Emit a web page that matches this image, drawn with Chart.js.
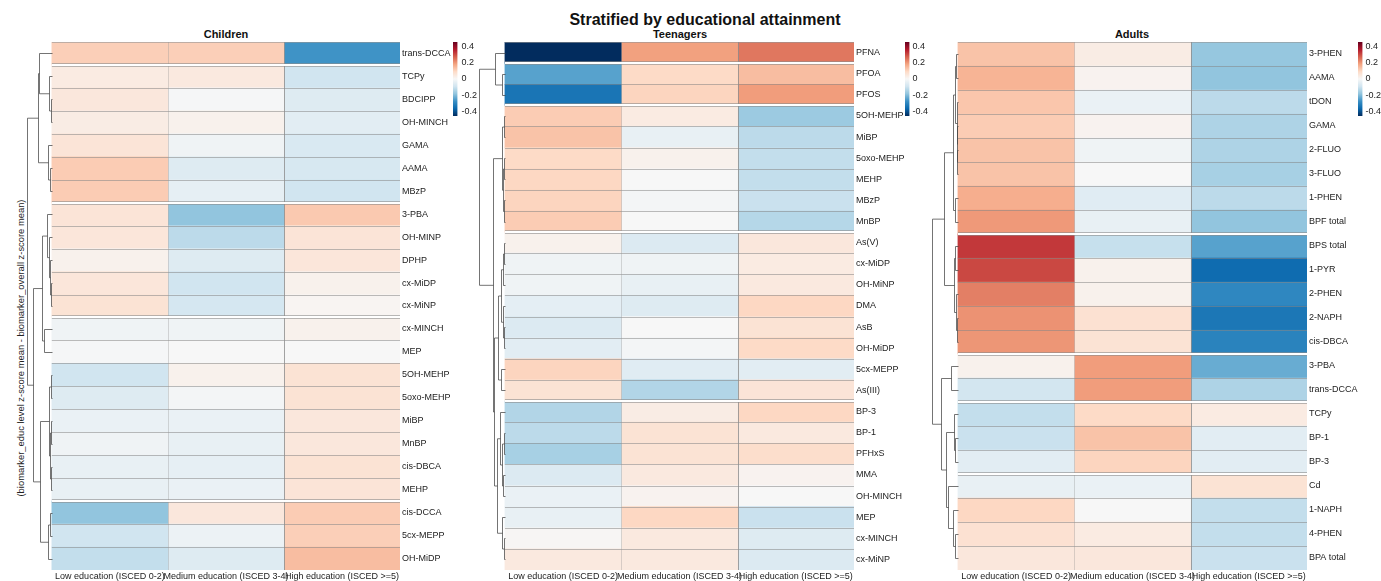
<!DOCTYPE html>
<html lang="en">
<head>
  <meta charset="UTF-8" />
  <title>Stratified by educational attainment</title>
  <script src="https://cdn.jsdelivr.net/npm/chart.js"></script>
  <style>
    body {
      margin: 0;
      width: 1381px;
      height: 581px;
      position: relative;
      overflow: hidden;
      background: #fff;
      font-family: "Liberation Sans", Arial, sans-serif;
    }

    canvas {
      position: absolute;
    }

    .title {
      position: absolute;
      text-align: center;
      font-weight: bold;
      color: #111;
      white-space: nowrap;
    }

    #mainTitle {
      left: 455px;
      width: 500px;
      top: 12px;
      font-size: 16px;
      line-height: 16px;
    }

    .panelTitle {
      top: 29px;
      width: 200px;
      font-size: 11px;
      line-height: 11px;
    }

    #yLabel {
      position: absolute;
      left: -139px;
      top: 342px;
      width: 320px;
      height: 12px;
      line-height: 12px;
      font-size: 9.4px;
      color: #222;
      text-align: center;
      white-space: nowrap;
      transform: rotate(-90deg);
    }
  </style>
</head>
<body>
  <div id="mainTitle" class="title">Stratified by educational attainment</div>
  <div class="title panelTitle" style="left:126px">Children</div>
  <div class="title panelTitle" style="left:580px">Teenagers</div>
  <div class="title panelTitle" style="left:1032px">Adults</div>
  <div id="yLabel">(biomarker_educ level z-score mean - biomarker_overall z-score mean)</div>

  <canvas id="childChart" width="430" height="581" style="left:24px;top:0"></canvas>
  <canvas id="teenChart" width="431" height="581" style="left:477px;top:0"></canvas>
  <canvas id="adultChart" width="429" height="581" style="left:930px;top:0"></canvas>
  <canvas id="childLegend" width="40" height="94" style="left:453px;top:32px"></canvas>
  <canvas id="teenLegend" width="40" height="94" style="left:905px;top:32px"></canvas>
  <canvas id="adultLegend" width="23" height="94" style="left:1358px;top:32px"></canvas>

  <script>
    const eduLevels = ['Low education (ISCED 0-2)', 'Medium education (ISCED 3-4)', 'High education (ISCED >=5)'];

    // children
    const childRows = ['trans-DCCA', 'TCPy', 'BDCIPP', 'OH-MINCH', 'GAMA', 'AAMA', 'MBzP', '3-PBA', 'OH-MINP', 'DPHP', 'cx-MiDP', 'cx-MiNP',
      'cx-MINCH', 'MEP', '5OH-MEHP', '5oxo-MEHP', 'MiBP', 'MnBP', 'cis-DBCA', 'MEHP', 'cis-DCCA', '5cx-MEPP', 'OH-MiDP'];
    const childLow = [0.11, 0.04, 0.05, 0.035, 0.06, 0.115, 0.115, 0.06, 0.055, 0.02, 0.055, 0.065,
      -0.02, -0.005, -0.09, -0.06, -0.03, -0.02, -0.035, -0.035, -0.18, -0.09, -0.11];
    const childMed = [0.11, 0.045, -0.005, 0.02, -0.02, -0.06, -0.04, -0.18, -0.12, -0.06, -0.09, -0.08,
      -0.02, 0, 0.02, -0.01, -0.03, -0.035, -0.04, -0.03, 0.05, -0.025, -0.06];
    const childHigh = [-0.265, -0.09, -0.06, -0.05, -0.07, -0.075, -0.09, 0.12, 0.06, 0.055, 0.02, 0.01,
      0.02, 0, 0.065, 0.065, 0.05, 0.05, 0.065, 0.06, 0.115, 0.11, 0.14];
    const childGaps = [0, 6, 11, 19];
    // dendrogram: [height, left, right], leaves are row indices
    const childTree = [1.0,
      [0.55, [0.5, 0, [0.12, 1, [0.04, 2, 3]]], [0.14, 4, [0.06, 5, 6]]],
      [0.76, [0.4, [0.2, 7, [0.12, 8, [0.06, 9, [0.03, 10, 11]]]], [0.3, 12, 13]],
        [0.48, [0.12, [0.04, 14, 15], [0.07, [0.03, 16, 17], [0.02, 18, 19]]], [0.15, [0.06, 20, 21], 22]]]];

    // teenagers
    const teenRows = ['PFNA', 'PFOA', 'PFOS', '5OH-MEHP', 'MiBP', '5oxo-MEHP', 'MEHP', 'MBzP', 'MnBP', 'As(V)', 'cx-MiDP', 'OH-MiNP',
      'DMA', 'AsB', 'OH-MiDP', '5cx-MEPP', 'As(III)', 'BP-3', 'BP-1', 'PFHxS', 'MMA', 'OH-MINCH', 'MEP', 'cx-MINCH', 'cx-MiNP'];
    const teenLow = [-0.45, -0.24, -0.33, 0.115, 0.13, 0.09, 0.095, 0.1, 0.115, 0.02, -0.02, -0.02,
      -0.045, -0.065, -0.05, 0.1, 0.065, -0.135, -0.12, -0.15, -0.065, -0.03, -0.035, 0.005, 0.045];
    const teenMed = [0.185, 0.09, 0.1, 0.04, -0.035, 0.02, 0, -0.01, 0, -0.065, -0.02, -0.035,
      -0.06, 0, -0.01, -0.055, -0.135, 0.035, 0.065, 0.065, 0.045, 0.015, 0.095, 0.045, 0.045];
    const teenHigh = [0.24, 0.14, 0.19, -0.165, -0.12, -0.11, -0.11, -0.1, -0.13, 0.05, 0.04, 0.045,
      0.095, 0.065, 0.09, -0.05, 0.06, 0.095, 0.045, 0.08, 0.015, 0, -0.1, -0.06, -0.065];
    const teenGaps = [0, 2, 8, 16];
    const teenTree = [1.0,
      [0.38, 0, [0.115, 1, 2]],
      [0.46, [0.12, [0.05, 3, 4], [0.07, [0.03, 5, 6], [0.04, 7, 8]]],
        [0.42, [0.25, [0.14, [0.07, [0.03, 9, 10], 11], [0.09, 12, [0.04, 13, 14]]], [0.15, 15, 16]],
          [0.3, [0.2, 17, [0.12, [0.04, 18, 19], [0.06, 20, 21]]], [0.1, 22, [0.05, 23, 24]]]]]];

    // adults
    const adultRows = ['3-PHEN', 'AAMA', 'tDON', 'GAMA', '2-FLUO', '3-FLUO', '1-PHEN', 'BPF total', 'BPS total', '1-PYR', '2-PHEN',
      '2-NAPH', 'cis-DBCA', '3-PBA', 'trans-DCCA', 'TCPy', 'BP-1', 'BP-3', 'Cd', '1-NAPH', '4-PHEN', 'BPA total'];
    const adultLow = [0.13, 0.155, 0.125, 0.115, 0.13, 0.13, 0.165, 0.195, 0.32, 0.3, 0.23,
      0.205, 0.2, 0.02, -0.085, -0.11, -0.1, -0.05, -0.035, 0.095, 0.07, 0.05];
    const adultMed = [0.035, 0.015, -0.03, 0.015, -0.02, 0, -0.055, -0.035, -0.105, 0.02, 0.02,
      0.07, 0.065, 0.19, 0.19, 0.09, 0.13, 0.1, -0.03, 0, 0.04, 0.05];
    const adultHigh = [-0.175, -0.18, -0.12, -0.14, -0.14, -0.15, -0.12, -0.18, -0.24, -0.35, -0.29,
      -0.326, -0.3, -0.223, -0.14, 0.04, -0.05, -0.05, 0.065, -0.11, -0.11, -0.1];
    const adultGaps = [7, 12, 14, 17];
    const adultTree = [1.0,
      [0.54, [0.2, [0.1, [0.06, 0, 1], [0.05, 2, [0.04, 3, [0.03, 4, 5]]]], [0.1, 6, 7]],
        [0.15, [0.1, 8, 9], [0.08, 10, [0.04, 11, 12]]]],
      [0.65, [0.27, 13, 14], [0.45, [0.15, 15, [0.1, 16, 17]], [0.38, 18, [0.2, 19, [0.1, 20, 21]]]]]];

    // colour key
    const legendRange = [-0.45, 0.45];
    const legendTicks = [-0.4, -0.2, 0, 0.2, 0.4];
    const rdbu = ['#67001F', '#B2182B', '#D6604D', '#F4A582', '#FDDBC7', '#F7F7F7',
      '#D1E5F0', '#92C5DE', '#3A90C5', '#0A68AD', '#022C5E'];

    Chart.defaults.font.family = '"Liberation Sans", Arial, sans-serif';
    Chart.defaults.color = '#222';

    const hexRgb = h => [1, 3, 5].map(i => parseInt(h.slice(i, i + 2), 16));

    function valueColor(v) {
      const [lo, hi] = legendRange;
      const t = (hi - Math.min(hi, Math.max(lo, v))) / (hi - lo) * (rdbu.length - 1);
      const i = Math.min(Math.floor(t), rdbu.length - 2);
      const f = t - i;
      const a = hexRgb(rdbu[i]), b = hexRgb(rdbu[i + 1]);
      const c = a.map((x, k) => Math.round(x + (b[k] - x) * f));
      return `rgb(${c[0]},${c[1]},${c[2]})`;
    }

    // cell borders, cluster gaps and row dendrogram
    const gridAndTree = {
      id: 'gridAndTree',
      afterDatasetsDraw(chart, args, opts) {
        const { ctx, scales: { x, y } } = chart;
        const n = chart.data.labels.length;
        const left = x.getPixelForValue(0);
        const right = x.getPixelForValue(3);
        const edge = i => y.getPixelForValue(i - 0.5);

        ctx.save();
        ctx.lineWidth = 1;

        const hline = (yy, color) => {
          ctx.strokeStyle = color;
          ctx.beginPath();
          ctx.moveTo(left, Math.round(yy) + 0.5);
          ctx.lineTo(right, Math.round(yy) + 0.5);
          ctx.stroke();
        };

        hline(edge(0), 'rgba(150,150,150,0.6)');
        for (let i = 1; i < n; i++) {
          if (!opts.gaps.includes(i - 1)) hline(edge(i), 'rgba(135,135,135,0.55)');
        }

        // column lines
        [[1, 'rgba(150,150,150,0.35)'], [2, 'rgba(140,140,140,0.8)']].forEach(([c, col]) => {
          const px = Math.round(x.getPixelForValue(c)) + 0.5;
          ctx.strokeStyle = col;
          ctx.beginPath();
          ctx.moveTo(px, edge(0));
          ctx.lineTo(px, edge(n));
          ctx.stroke();
        });

        // gaps between row clusters
        opts.gaps.forEach(g => {
          const yy = Math.round(edge(g + 1));
          ctx.fillStyle = '#fff';
          ctx.fillRect(left, yy - 1, right - left, 2);
          hline(yy - 2, 'rgba(140,140,140,0.6)');
          hline(yy + 1, 'rgba(140,140,140,0.6)');
        });

        // dendrogram
        const xh = h => Math.round(x.getPixelForValue(-h * opts.dendroW)) + 0.5;
        ctx.strokeStyle = 'rgba(70,70,70,0.75)';
        const seg = (x1, y1, x2, y2) => {
          ctx.beginPath();
          ctx.moveTo(x1, y1);
          ctx.lineTo(x2, y2);
          ctx.stroke();
        };
        const walk = node => {
          if (typeof node === 'number') return { y: Math.round(y.getPixelForValue(node)) + 0.5, h: 0 };
          const [h, a, b] = node;
          const A = walk(a), B = walk(b);
          const px = xh(h);
          seg(px, A.y, px, B.y);
          seg(px, A.y, xh(A.h), A.y);
          seg(px, B.y, xh(B.h), B.y);
          return { y: (A.y + B.y) / 2, h };
        };
        walk(opts.tree);

        ctx.restore();
      }
    };

    function heatmapPanel(id, rows, cols, gaps, tree, dendroW, labelWidth) {
      return new Chart(document.getElementById(id), {
        type: 'bar',
        data: {
          labels: rows,
          datasets: cols.map((vals, c) => ({
            label: eduLevels[c],
            data: vals.map(() => [c, c + 1]),
            backgroundColor: vals.map(valueColor),
            borderWidth: 0,
            barPercentage: 1,
            categoryPercentage: 1,
            grouped: false
          }))
        },
        options: {
          indexAxis: 'y',
          responsive: false,
          animation: false,
          layout: { padding: { top: 42, left: 0, right: 0, bottom: 0 } },
          plugins: {
            legend: { display: false },
            tooltip: { enabled: false },
            gridAndTree: { gaps, tree, dendroW }
          },
          scales: {
            x: {
              type: 'linear',
              min: -0.24,
              max: 3,
              bounds: 'data',
              grid: { display: false, drawTicks: false },
              border: { display: false },
              afterBuildTicks: s => { s.ticks = [0.5, 1.5, 2.5].map(v => ({ value: v })); },
              afterFit: s => { s.height = 11; },
              ticks: {
                autoSkip: false,
                maxRotation: 0,
                minRotation: 0,
                padding: 1,
                font: { size: 9 },
                color: '#222',
                callback: (v, i) => eduLevels[i]
              }
            },
            y: {
              position: 'right',
              grid: { display: false, drawTicks: false },
              border: { display: false },
              afterFit: s => { s.width = labelWidth; },
              ticks: { autoSkip: false, padding: 2, font: { size: 9 }, color: '#222' }
            }
          }
        },
        plugins: [gridAndTree]
      });
    }

    function legendGradient(chart) {
      const { ctx, chartArea, scales } = chart;
      if (!chartArea) return null;
      const y = scales.y;
      const g = ctx.createLinearGradient(0, y.getPixelForValue(legendRange[1]), 0, y.getPixelForValue(legendRange[0]));
      rdbu.forEach((c, i) => g.addColorStop(i / (rdbu.length - 1), c));
      return g;
    }

    function colourKey(id, axisWidth, pad) {
      return new Chart(document.getElementById(id), {
        type: 'bar',
        data: {
          labels: [''],
          datasets: [{
            data: [legendRange],
            backgroundColor: c => legendGradient(c.chart),
            borderWidth: 0,
            barPercentage: 1,
            categoryPercentage: 1
          }]
        },
        options: {
          responsive: false,
          animation: false,
          layout: { padding: { top: 10, bottom: 10, left: 0, right: 0 } },
          plugins: { legend: { display: false }, tooltip: { enabled: false } },
          scales: {
            x: { display: false },
            y: {
              position: 'right',
              min: legendRange[0],
              max: legendRange[1],
              bounds: 'data',
              grid: { display: false, drawTicks: false },
              border: { display: false },
              afterBuildTicks: s => { s.ticks = legendTicks.map(v => ({ value: v })); },
              afterFit: s => { s.width = axisWidth; },
              ticks: {
                padding: pad,
                font: { size: 9 },
                color: '#222',
                callback: v => v === 0 ? '0' : v.toFixed(1)
              }
            }
          }
        }
      });
    }

    heatmapPanel('childChart', childRows, [childLow, childMed, childHigh], childGaps, childTree, 0.215, 54);
    heatmapPanel('teenChart', teenRows, [teenLow, teenMed, teenHigh], teenGaps, teenTree, 0.224, 54);
    heatmapPanel('adultChart', adultRows, [adultLow, adultMed, adultHigh], adultGaps, adultTree, 0.224, 52);

    colourKey('childLegend', 35.5, 4);
    colourKey('teenLegend', 35.5, 3);
    colourKey('adultLegend', 18.5, 3);
  </script>
</body>
</html>
